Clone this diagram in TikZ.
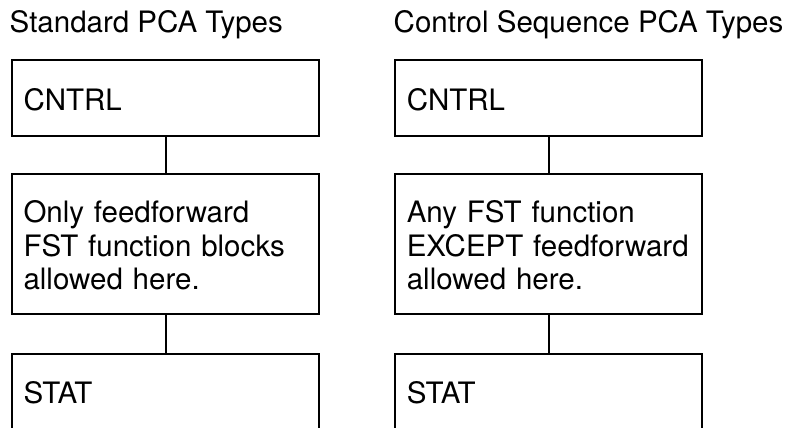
\documentclass[tikz,border=0pt]{standalone}
\usepackage{fontspec}
\setmainfont{TeX Gyre Heros}
\newcommand\up{\rule{0pt}{24.4pt}}
\begin{document}
\begin{tikzpicture}[x=1pt,y=-1pt,
  every node/.style={font=\fontsize{29.5}{33.5}\selectfont},
  pbox/.style={draw, line width=2pt, rectangle, anchor=north west,
    minimum width=307pt, inner xsep=11.5pt, inner ysep=0pt,
    text width=284pt, align=left},
  ttl/.style={anchor=base west, inner sep=0pt},
  conn/.style={line width=2pt}]
\useasboundingbox (0,0) rectangle (788,428);
\node[ttl] (t1) at (9.5,32.3) {Standard PCA Types};
\node[ttl] (t2) at (393.5,32.3) {Control Sequence PCA Types};
% left column
\node[pbox, minimum height=76pt] (c1) at (11,59.3) {\up CNTRL};
\node[pbox, minimum height=140pt] (m1) at (11,173.3) {\up Only feedforward\\FST function blocks\\allowed here.};
\node[pbox, minimum height=76pt] (s1) at (11,352.7) {\up STAT};
% right column
\node[pbox, minimum height=76pt] (c2) at (394.3,59.3) {\up CNTRL};
\node[pbox, minimum height=140pt] (m2) at (394.3,173.3) {\up Any FST function\\EXCEPT feedforward\\allowed here.};
\node[pbox, minimum height=76pt] (s2) at (394.3,352.7) {\up STAT};
\draw[conn] (c1.south) -- (m1.north);
\draw[conn] (m1.south) -- (s1.north);
\draw[conn] (c2.south) -- (m2.north);
\draw[conn] (m2.south) -- (s2.north);
\end{tikzpicture}
\end{document}
